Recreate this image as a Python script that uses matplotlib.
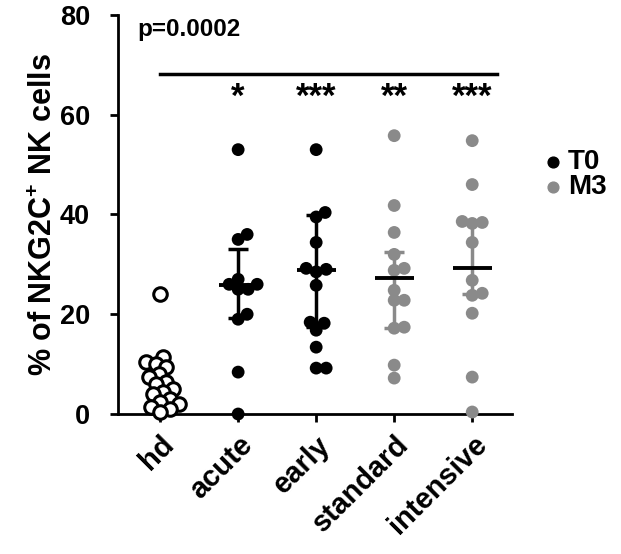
import numpy as np
import matplotlib.pyplot as plt

plt.rcParams['font.family'] = ['Liberation Sans', 'DejaVu Sans']
plt.rcParams['font.weight'] = 'bold'
plt.rcParams['mathtext.fontset'] = 'custom'
plt.rcParams['mathtext.rm'] = 'Liberation Sans:bold'
plt.rcParams['mathtext.default'] = 'rm'

groups = ['hd', 'acute', 'early', 'standard', 'intensive']
hd = [24, 11.5, 10.5, 10, 9.5, 8, 7.5, 6.5, 6, 5, 4.5, 4, 3, 2.5, 2, 1.5, 1, 0.5]
acute = [53, 36, 35, 27, 26, 26, 25, 25, 20, 19, 8.4, 0]
early = [53, 40.4, 39.5, 34.4, 29.2, 29, 28.5, 25.8, 18.4, 18.2, 16.8, 13.4, 9.2, 9.2]
standard = [55.8, 41.8, 36.4, 32, 29.2, 28.8, 24.8, 22.8, 22.8, 17.4, 17.2, 9.8, 7.2]
intensive = [54.8, 46, 38.6, 38.4, 38.2, 34.4, 26.8, 24.2, 23.8, 20.2, 7.4, 0.4]
values = [hd, acute, early, standard, intensive]

# median and interquartile range
medians = [None, 25.8, 28.8, 27.2, 29.2]
q_low = [None, 19.2, 17.5, 17.2, 24.0]
q_high = [None, 33.0, 39.8, 32.4, 38.2]
stars = ['', '*', '***', '**', '***']
legend_labels = ['T0', 'M3']

BLACK = '#000000'
GREY = '#8a8a8a'
colors = [BLACK, BLACK, BLACK, GREY, GREY]

PX_X = 78.0   # pixels per category
PX_Y = 5.0    # pixels per % unit
DOT = 12.5    # marker diameter in px


def swarm(vals, d=DOT):
    placed = []
    offs = [0] * len(vals)
    order = np.argsort(vals)
    for i in order:
        y = vals[i] * PX_Y
        for step in range(0, 200):
            cands = [step] if step == 0 else [step, -step]
            ok = None
            for c in cands:
                if all((c - px) ** 2 + (y - py) ** 2 >= (d * 0.8) ** 2 for px, py in placed):
                    ok = c
                    break
            if ok is not None:
                placed.append((ok, y))
                offs[i] = ok / PX_X
                break
    return offs


fig = plt.figure(figsize=(6.21, 5.54), dpi=100)
ax = fig.add_axes([0.19, 0.2527, 0.6345, 0.7203])

for i, vals in enumerate(values):
    offs = swarm(vals)
    xs = [i + o for o in offs]
    if i == 0:
        ax.scatter(xs, vals, s=95, facecolors='white', edgecolors=BLACK,
                   linewidths=2.2, clip_on=False, zorder=3)
    else:
        ax.scatter(xs, vals, s=85, color=colors[i], edgecolors='none',
                   clip_on=False, zorder=3)
        ax.errorbar(i, medians[i], yerr=[[medians[i] - q_low[i]], [q_high[i] - medians[i]]],
                    fmt='none', ecolor=colors[i], elinewidth=2.5, capsize=7.5,
                    capthick=2.5, zorder=4)
        ax.plot([i - 0.25, i + 0.25], [medians[i], medians[i]], color=BLACK,
                lw=2.8, zorder=5, solid_capstyle='butt')
    if stars[i]:
        ax.text(i, 63.5, stars[i], ha='center', va='center', fontsize=25,
                fontweight='bold')

ax.plot([0, 4.32], [68.2, 68.2], color=BLACK, lw=2.5, clip_on=False)
ax.text(-0.29, 77, 'p=0.0002', ha='left', va='center', fontsize=17.5,
        fontweight='bold')

ax.set_xlim(-0.54, 4.51)
ax.set_ylim(0, 80)
ax.set_yticks([0, 20, 40, 60, 80])
ax.set_xticks(range(len(groups)))
ax.set_xticklabels(groups, rotation=45, ha='right', rotation_mode='anchor')
ax.tick_params(axis='both', width=2, length=6, direction='out')
ax.tick_params(axis='y', pad=14, labelsize=19.5)
ax.tick_params(axis='x', pad=6, labelsize=21)
for lab in ax.get_xticklabels() + ax.get_yticklabels():
    lab.set_fontweight('bold')
ax.spines['top'].set_visible(False)
ax.spines['right'].set_visible(False)
ax.spines['left'].set_linewidth(2)
ax.spines['bottom'].set_linewidth(2)
ax.set_ylabel(r'% of NKG2C$^{+}$ NK cells', fontsize=22, fontweight='bold',
              labelpad=1)

# legend drawn by hand in figure coordinates
for k, (lab, col) in enumerate(zip(legend_labels, [BLACK, GREY])):
    yk = 1 - (162 + 25 * k) / 554
    ax.scatter([553 / 621], [yk], s=60, color=col, transform=fig.transFigure,
               clip_on=False)
    fig.text(568 / 621, yk, lab, ha='left', va='center', fontsize=20,
             fontweight='bold')

fig.savefig('out.png', dpi=100)
